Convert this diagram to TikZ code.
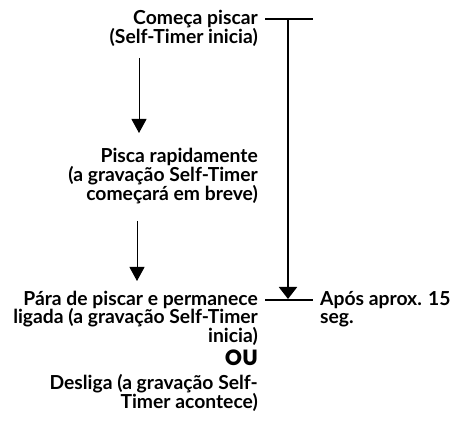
\documentclass[tikz,border=0pt]{standalone}
\usepackage{fontspec}
\setmainfont{Lato}
\newfontfamily\oufont{Poppins}
\usetikzlibrary{arrows.meta}
\begin{document}
\begin{tikzpicture}[x=1pt,y=-1pt,
  lbl/.style={font=\bfseries\fontsize{19.3}{19}\selectfont, inner sep=0pt, align=right, anchor=base east},
  lblL/.style={font=\bfseries\fontsize{19.3}{19}\selectfont, inner sep=0pt, align=left, anchor=base west},
  ou/.style={font=\oufont\bfseries\fontsize{22}{22}\selectfont, inner sep=0pt, anchor=base east},
  flow/.style={line width=1pt, -{Triangle[length=14pt,width=15pt]}},
  timer/.style={line width=2pt},
  timerarrow/.style={line width=2pt, -{Triangle[length=12pt,width=18pt]}}]
\useasboundingbox (0,0) rectangle (456,425);
\node[lbl] (n1) at (258,44) {Começa piscar\\(Self-Timer inicia)};
\node[lbl] (n2) at (258,201) {Pisca rapidamente\\(a gravação Self-Timer\\começará em breve)};
\node[lbl] (n3) at (258,343) {Pára de piscar e permanece\\ligada (a gravação Self-Timer\\inicia)};
\node[ou] (n4) at (258,366) {OU};
\node[lbl] (n5) at (258,409) {Desliga (a gravação Self-\\Timer acontece)};
\node[lblL] (n6) at (320,324) {Após aprox. 15\\seg.};
\coordinate (a1s) at (139,58);
\coordinate (a1e) at (139,133);
\coordinate (a2s) at (137,221);
\coordinate (a2e) at (137,281);
\draw[flow] (a1s) -- (a1e);
\draw[flow] (a2s) -- (a2e);
\coordinate (t1a) at (265,19);
\coordinate (t1b) at (313,19);
\coordinate (tvs) at (288,19);
\coordinate (tve) at (288,299);
\coordinate (t2a) at (265,300);
\coordinate (t2b) at (313,300);
\draw[timer] (t1a) -- (t1b);
\draw[timer] (t2a) -- (t2b);
\draw[timerarrow] (tvs) -- (tve);
\end{tikzpicture}
\end{document}
